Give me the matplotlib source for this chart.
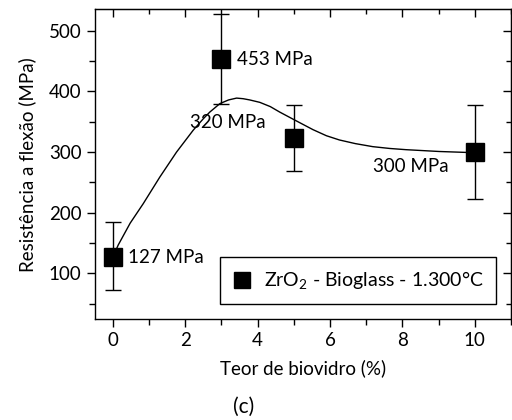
"""Flexural strength vs. bioglass content (ZrO2 - Bioglass, 1.300 C)."""

import matplotlib
matplotlib.use("Agg")
import matplotlib.pyplot as plt
from matplotlib.lines import Line2D
from matplotlib.ticker import MultipleLocator, NullFormatter

plt.rcParams["font.family"] = ["Lato", "DejaVu Sans"]
plt.rcParams["mathtext.fontset"] = "custom"
plt.rcParams["mathtext.rm"] = "Lato"
plt.rcParams["mathtext.it"] = "Lato:italic"

# --- data ------------------------------------------------------------------
teor = [0, 3, 5, 10]                      # bioglass content (%)
resist = [127, 453, 324, 300]             # flexural strength (MPa)
err_low = [72, 379, 269, 223]             # lower end of error bar
err_high = [184, 527, 377, 377]           # upper end of error bar
labels = ["127 MPa", "453 MPa", "320 MPa", "300 MPa"]
serie = r"ZrO$_2$ - Bioglass - 1.300°C"

# fitted trend curve
fit_x = [0.0, 0.15, 0.48, 0.84, 1.30, 1.76, 2.22, 2.50, 2.68, 2.96, 3.20,
         3.42, 3.60, 3.78, 4.06, 4.35, 4.61, 5.02, 5.53, 5.90, 6.26, 6.70,
         7.18, 7.65, 8.10, 9.02, 10.0]
fit_y = [127, 147, 183, 215, 259, 300, 336, 355, 366, 380, 386,
         389, 388, 386, 382, 375, 366, 353, 337, 327, 320, 314,
         309, 306, 304, 301, 299]

fig = plt.figure(figsize=(5.12, 4.2), dpi=100)
ax = fig.add_axes([0.185, 0.2405, 0.813, 0.7369])

ax.plot(fit_x, fit_y, color="black", lw=1.0, zorder=2)

yerr = [[r - lo for r, lo in zip(resist, err_low)],
        [hi - r for r, hi in zip(resist, err_high)]]
ax.errorbar(teor, resist, yerr=yerr, fmt="s", color="black", ms=13.5,
            ecolor="black", elinewidth=1.0, capsize=5.5, capthick=1.0,
            zorder=3)

# value annotations
fs = 13.5
ax.text(0.42, 127, labels[0], fontsize=fs, va="center", ha="left")
ax.text(3.42, 453, labels[1], fontsize=fs, va="center", ha="left")
ax.text(4.22, 349, labels[2], fontsize=fs, va="center", ha="right")
ax.text(7.2, 277, labels[3], fontsize=fs, va="center", ha="left")

ax.set_xlim(-0.5, 11)
ax.set_ylim(25, 535)
ax.xaxis.set_major_locator(MultipleLocator(2))
ax.xaxis.set_minor_locator(MultipleLocator(1))
ax.yaxis.set_major_locator(MultipleLocator(100))
ax.yaxis.set_minor_locator(MultipleLocator(50))
ax.tick_params(which="both", direction="out", labelsize=fs, width=1.0)
ax.tick_params(which="major", length=6)
ax.tick_params(which="minor", length=4)

# top/right ticks point inward, no labels
top = ax.secondary_xaxis("top")
top.xaxis.set_major_locator(MultipleLocator(2))
top.xaxis.set_minor_locator(MultipleLocator(1))
top.xaxis.set_major_formatter(NullFormatter())
right = ax.secondary_yaxis("right")
right.yaxis.set_major_locator(MultipleLocator(100))
right.yaxis.set_minor_locator(MultipleLocator(50))
right.yaxis.set_major_formatter(NullFormatter())
for sec in (top, right):
    sec.tick_params(which="both", direction="in", width=1.0)
    sec.tick_params(which="major", length=6)
    sec.tick_params(which="minor", length=3.5)

for s in ax.spines.values():
    s.set_linewidth(1.0)

ax.set_xlabel("Teor de biovidro (%)", fontsize=fs, labelpad=7)
ax.set_ylabel("Resistência a flexão (MPa)", fontsize=fs, labelpad=9)

handle = Line2D([], [], ls="none", marker="s", color="black", ms=11.5)
leg = ax.legend([handle], [serie], loc="lower right",
                bbox_to_anchor=(0.964, 0.0485), borderaxespad=0,
                fancybox=False, framealpha=1, edgecolor="black", fontsize=14,
                handlelength=1.0, handletextpad=0.6, borderpad=0.65)
leg.get_frame().set_linewidth(1.0)

fig.text(0.475, 0.032, "(c)", fontsize=15, ha="center", va="center")

fig.savefig("out.png", dpi=100)
